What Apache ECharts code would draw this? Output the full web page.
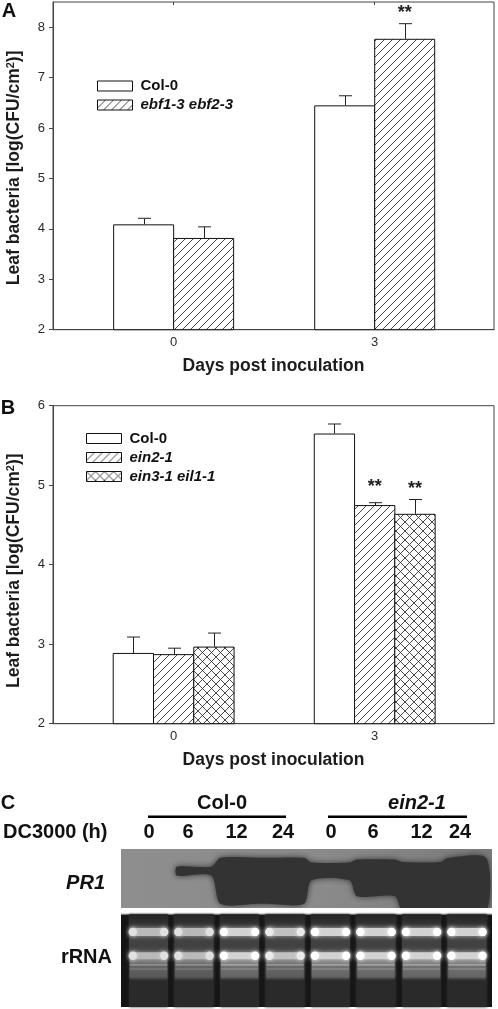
<!DOCTYPE html>
<html><head><meta charset="utf-8">
<style>html,body{margin:0;padding:0;background:#fff}#c{width:498px;height:1009px}</style>
<script src="https://cdn.jsdelivr.net/npm/echarts@6/dist/echarts.min.js"></script>
</head><body><div id="c"></div>
<script>
// ---------- data ----------
const days = [0, 3];
const namesA = ['Col-0', 'ebf1-3 ebf2-3'];
const colA = [4.09, 6.45];
const ebfA = [3.82, 7.77];
const colAErr = [0.12, 0.19];
const ebfAErr = [0.22, 0.30];
const sigA = [[1, 1, 8.32]];            // series index, day index, height of the mark

const namesB = ['Col-0', 'ein2-1', 'ein3-1 eil1-1'];
const colB = [2.89, 5.65];
const ein2B = [2.875, 4.75];
const ein3B = [2.97, 4.64];
const colBErr = [0.20, 0.12];
const ein2BErr = [0.075, 0.03];
const ein3BErr = [0.17, 0.18];
const sigB = [[1, 1, 5.0], [2, 1, 4.98]];

const ticksA = [2, 3, 4, 5, 6, 7, 8];
const ticksB = [2, 3, 4, 5, 6];

const lanes = ['0', '6', '12', '24', '0', '6', '12', '24'];
const pr1Top = [0, 0.3, 0.15, 0.15, 0.23, 0.18, 0.22, 0.15];
const pr1Bottom = [0, 0.45, 0.93, 0.93, 0.53, 0.8, 1.05, 1.05];
const rrnaLevel = [0.88, 0.88, 1, 0.92, 1, 1, 1, 1];

// ---------- hatching ----------
function tile(size, dirs) {
  const c = document.createElement('canvas');
  c.width = c.height = size;
  const g = c.getContext('2d');
  g.fillStyle = '#fff'; g.fillRect(0, 0, size, size);
  g.strokeStyle = '#333'; g.lineWidth = 0.9;
  dirs.forEach(d => {
    for (let k = -size; k <= size; k += size) {
      g.beginPath();
      if (d > 0) { g.moveTo(k, size); g.lineTo(k + size, 0); }
      else { g.moveTo(k, 0); g.lineTo(k + size, size); }
      g.stroke();
    }
  });
  return { image: c, repeat: 'repeat' };
}
const FILLS = ['#fff', tile(8, [1]), tile(9, [1, -1])];

const FONT = '"Liberation Sans", Arial, sans-serif';
const INK = '#2a2a2a';

// ---------- chart panels ----------
const grids = [
  { left: 53, top: 2, width: 441, height: 327.7, show: true, borderColor: '#444', borderWidth: 1, backgroundColor: '#fff', outerBoundsMode: 'none' },
  { left: 53, top: 405.7, width: 441, height: 318, show: true, borderColor: '#444', borderWidth: 1, backgroundColor: '#fff', outerBoundsMode: 'none' },
  { left: 125.75, top: 849, width: 364, height: 59, outerBoundsMode: 'none' },
  { left: 125.75, top: 914.3, width: 364, height: 92.7, outerBoundsMode: 'none' }
];

function xAxisFor(i) {
  return {
    type: 'value', gridIndex: i, min: -1.8, max: 4.78, containShape: false,
    name: 'Days post inoculation', nameLocation: 'middle', nameGap: 27,
    nameTextStyle: { fontFamily: FONT, fontWeight: 'bold', fontSize: 17.5, color: '#1c1c1c' },
    axisLine: { lineStyle: { color: '#444', width: 1 } },
    axisTick: { show: false },
    splitLine: { show: false },
    axisLabel: { customValues: days, margin: 6, fontFamily: FONT, fontSize: 13, color: INK }
  };
}
function yAxisFor(i, min, max, ticks, pad) {
  return {
    type: 'value', gridIndex: i, min, max,
    name: 'Leaf bacteria [log(CFU/cm{s|2})]', nameLocation: 'middle', nameGap: 30,
    nameTextStyle: {
      fontFamily: FONT, fontWeight: 'bold', fontSize: 17.5, color: '#1c1c1c', padding: pad,
      rich: { s: { fontFamily: FONT, fontWeight: 'bold', fontSize: 11, color: '#1c1c1c', padding: [0, 0, 7, 0] } }
    },
    axisLine: { show: true, onZero: false, lineStyle: { color: '#444', width: 1 } },
    axisTick: { show: true, customValues: ticks, length: 4, lineStyle: { color: '#444' } },
    splitLine: { show: false },
    axisLabel: { customValues: ticks, margin: 8, fontFamily: FONT, fontSize: 13, color: INK }
  };
}
const topTicks = {
  type: 'value', gridIndex: 0, position: 'top', min: -1.8, max: 4.78, containShape: false,
  axisLine: { show: false }, splitLine: { show: false }, axisLabel: { show: false },
  axisTick: { show: true, inside: true, length: 3, customValues: days, lineStyle: { color: '#444' } }
};
function hidden(type, i, extra) {
  return Object.assign({ type, gridIndex: i, show: false }, extra);
}

const xAxes = [
  xAxisFor(0), xAxisFor(1),
  hidden('category', 2, { data: lanes.map((l, k) => k + ':' + l) }),
  hidden('category', 3, { data: lanes.map((l, k) => k + ':' + l) }),
  topTicks
];
const yAxes = [
  yAxisFor(0, 2, 8.5, ticksA, [0, 4, 0, 0]),
  yAxisFor(1, 2, 6, ticksB, [0, 12, 0, 0]),
  hidden('value', 2, { min: 0, max: 1, inverse: true }),
  hidden('value', 3, { min: 0, max: 1, inverse: true })
];

function barPanel(axis, names, vals, errs, sig, barPx) {
  const out = [];
  const offset = s => (s - (names.length - 1) / 2) * barPx;
  const gap = (-100 / barPx).toFixed(2) + '%';
  names.forEach((name, s) => {
    out.push({
      type: 'bar', name, xAxisIndex: axis, yAxisIndex: axis,
      barWidth: barPx + 1, barGap: gap,
      data: days.map((d, k) => [d, vals[s][k]]),
      itemStyle: { color: FILLS[s], borderColor: '#111', borderWidth: 1 },
      z: 2
    });
  });
  const errData = [];
  names.forEach((n, s) => days.forEach((d, k) => errData.push([d, vals[s][k], vals[s][k] + errs[s][k], s])));
  out.push({
    type: 'custom', xAxisIndex: axis, yAxisIndex: axis, data: errData, z: 3, clip: false,
    encode: { x: 0, y: 2 },
    renderItem(p, api) {
      const base = api.coord([api.value(0), api.value(1)]);
      const top = api.coord([api.value(0), api.value(2)]);
      const x = Math.round(base[0] + offset(api.value(3))) + 0.5;
      const style = { stroke: '#222', lineWidth: 1, fill: null };
      return { type: 'group', children: [
        { type: 'line', shape: { x1: x, y1: base[1], x2: x, y2: top[1] }, style },
        { type: 'line', shape: { x1: x - 6.5, y1: top[1], x2: x + 6.5, y2: top[1] }, style }
      ] };
    }
  });
  out.push({
    type: 'custom', xAxisIndex: axis, yAxisIndex: axis, z: 4, clip: false,
    data: sig.map(m => [days[m[1]], m[2], m[0]]),
    encode: { x: 0, y: 1 },
    renderItem(p, api) {
      const at = api.coord([api.value(0), api.value(1)]);
      return { type: 'text', style: {
        text: '**', x: at[0] + offset(api.value(2)), y: at[1] + 2,
        align: 'center', verticalAlign: 'middle',
        font: 'bold 18px ' + FONT, fill: '#222'
      } };
    }
  });
  return out;
}

// PR1: one merged blot whose outline follows each lane's top and bottom extent
const blotPR1 = {
  type: 'custom', xAxisIndex: 2, yAxisIndex: 2, z: 3, clip: false,
  data: lanes.map((l, k) => [k, pr1Top[k], pr1Bottom[k]]),
  encode: { x: 0, y: 1 },
  renderItem(p, api) {
    if (p.dataIndex !== lanes.length - 1) return { type: 'group', children: [] };
    const band = api.size([1, 0])[0];
    const spread = k => (k === 1 ? 0.38 : 0.42);
    const upper = [], lower = [];
    lanes.forEach((l, k) => {
      if (!pr1Bottom[k]) return;
      const c = api.coord([k, 0])[0];
      const w = band * spread(k);
      const t = api.coord([k, pr1Top[k]])[1];
      const b = api.coord([k, pr1Bottom[k]])[1];
      upper.push([c - w, t], [c + w, t]);
      lower.unshift([c + w, b], [c - w, b]);
    });
    const cs = p.coordSys;
    return {
      type: 'polygon',
      shape: { points: upper.concat(lower), smooth: 0.25 },
      style: { fill: '#333', shadowBlur: 6, shadowColor: '#333' },
      clipPath: { type: 'rect', shape: { x: cs.x - 5, y: cs.y, width: cs.width + 7, height: cs.height } }
    };
  }
};

const blotRNA = {
  type: 'custom', xAxisIndex: 3, yAxisIndex: 3, z: 3, clip: false,
  data: lanes.map((l, k) => [k, rrnaLevel[k]]),
  encode: { x: 0, y: 1 },
  renderItem(p, api) {
    const k = api.value(0), lv = api.value(1);
    const band = api.size([1, 0])[0];
    const c = api.coord([k, 0])[0];
    const yAt = f => api.coord([k, f])[1];
    const hw = band * 0.41;
    const w = hw * 2;
    const grey = v => { const n = Math.round(v * lv); return 'rgb(' + n + ',' + n + ',' + n + ')'; };
    const side = (a, b) => new echarts.graphic.LinearGradient(0, 0, 1, 0, [
      { offset: 0, color: a }, { offset: 0.12, color: b }, { offset: 0.88, color: b }, { offset: 1, color: a }]);
    const kids = [
      { type: 'rect', shape: { x: c - band * 0.43, y: yAt(0), width: band * 0.86, height: yAt(0.68) - yAt(0) },
        style: { fill: new echarts.graphic.LinearGradient(0, 0, 0, 1, [
          { offset: 0, color: '#242424' }, { offset: 0.22, color: '#383838' }, { offset: 0.45, color: '#424242' }, { offset: 1, color: '#3a3a3a' }]),
          shadowBlur: 3, shadowColor: '#333' } },
      { type: 'rect', shape: { x: c - band * 0.43, y: yAt(0.68), width: band * 0.86, height: yAt(1) - yAt(0.68) },
        style: { fill: '#2a2a2a', shadowBlur: 3, shadowColor: '#2a2a2a' } },
      { type: 'rect', shape: { x: c - hw, y: yAt(0.46), width: w, height: yAt(0.7) - yAt(0.46) },
        style: { fill: new echarts.graphic.LinearGradient(0, 0, 0, 1, [
          { offset: 0, color: grey(150) }, { offset: 0.45, color: grey(112) }, { offset: 0.9, color: grey(100) }, { offset: 1, color: '#3c3c3c' }]),
          shadowBlur: 2, shadowColor: '#555' } },
      { type: 'rect', shape: { x: c - hw, y: yAt(0.54), width: w, height: 1.2 }, style: { fill: grey(175) } },
      { type: 'rect', shape: { x: c - hw, y: yAt(0.585), width: w, height: 1 }, style: { fill: grey(150) } }
    ];
    [0.19, 0.447].forEach((f, i) => {
      const h = i ? 7 : 8;
      kids.push({ type: 'rect', shape: { x: c - hw, y: yAt(f) - h / 2, width: w, height: h, r: 3 },
        style: { fill: side(grey(250), grey(210)), shadowBlur: 5, shadowColor: grey(180) } });
      [c - hw + 3, c + hw - 3].forEach(x => kids.push({
        type: 'circle', shape: { cx: x, cy: yAt(f), r: 4.2 },
        style: { fill: grey(255), shadowBlur: 4, shadowColor: grey(240) } }));
    });
    return { type: 'group', children: kids };
  }
};

// ---------- text and framing of the figure ----------
const T = (text, x, y, opt) => ({
  type: 'text', x, y, z: 10,
  style: Object.assign({ text, fontFamily: FONT, fontSize: 20, fontWeight: 'bold', fill: '#111',
    align: 'center', verticalAlign: 'middle' }, opt)
});
const laneX = [149, 188, 236.5, 283, 331, 373, 421.5, 460];
const graphic = [
  { type: 'rect', z: 0, shape: { x: 121, y: 849, width: 371, height: 59 },
    style: { fill: new echarts.graphic.LinearGradient(0, 0, 1, 0, [
      { offset: 0, color: '#8e8e8e' }, { offset: 0.55, color: '#8a8a8a' }, { offset: 1, color: '#7a7a7a' }]) } },
  { type: 'rect', z: 0, shape: { x: 121, y: 914.3, width: 371, height: 92.7 }, style: { fill: '#141414' } },
  { type: 'rect', z: 0, shape: { x: 121, y: 913.5, width: 371, height: 1 }, style: { fill: '#aaa' } },
  T('A', 9, 11, {}), T('B', 8, 408, {}), T('C', 8, 803, {}),
  T('Col-0', 222, 803, {}),
  T('ein2-1', 417, 803, { fontStyle: 'italic' }),
  { type: 'rect', z: 10, shape: { x: 148, y: 815.5, width: 138, height: 2.5 }, style: { fill: '#000' } },
  { type: 'rect', z: 10, shape: { x: 328, y: 815.5, width: 139, height: 2.5 }, style: { fill: '#000' } },
  T('DC3000 (h)', 3, 832, { align: 'left' }),
  T('PR1', 105, 883, { align: 'right', fontStyle: 'italic' }),
  T('rRNA', 112, 957, { align: 'right' })
].concat(lanes.map((l, k) => T(l, laneX[k], 832, {})));

const legendText = (name, italic) => ({ name, textStyle: { fontStyle: italic ? 'italic' : 'normal' } });
const legendBase = {
  orient: 'vertical', itemWidth: 35, itemHeight: 10, itemGap: 4, selectedMode: false, padding: 0,
  icon: 'rect', itemStyle: { borderWidth: 1, borderColor: '#111' },
  textStyle: { fontFamily: FONT, fontWeight: 'bold', fontSize: 15, color: '#111', padding: [0, 0, 0, 3] }
};

const chart = echarts.init(document.getElementById('c'), null, { renderer: 'canvas' });
chart.setOption({
  animation: false,
  backgroundColor: '#fff',
  grid: grids,
  xAxis: xAxes,
  yAxis: yAxes,
  legend: [
    Object.assign({}, legendBase, { left: 97, top: 78.5, data: [legendText(namesA[0], false), legendText(namesA[1], true)] }),
    Object.assign({}, legendBase, { left: 86, top: 431, data: [legendText(namesB[0], false), legendText(namesB[1], true), legendText(namesB[2], true)] })
  ],
  graphic,
  series: [
    ...barPanel(0, namesA, [colA, ebfA], [colAErr, ebfAErr], sigA, 60),
    ...barPanel(1, namesB, [colB, ein2B, ein3B], [colBErr, ein2BErr, ein3BErr], sigB, 40.3),
    blotPR1, blotRNA
  ]
});
</script></body></html>
